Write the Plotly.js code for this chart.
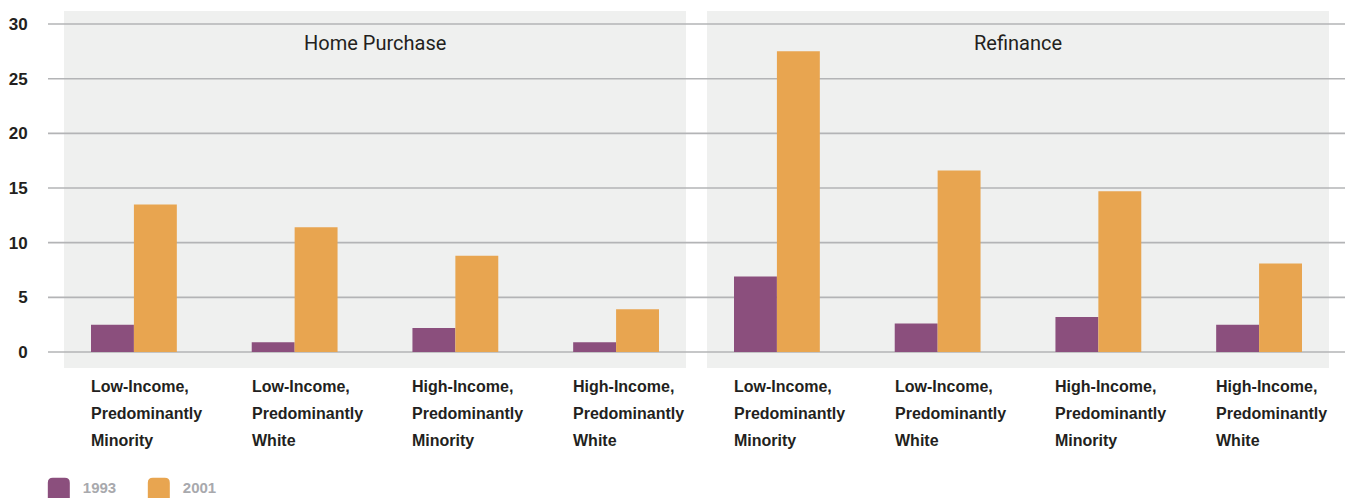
<!DOCTYPE html>
<html>
<head>
<meta charset="utf-8">
<script src="https://cdn.plot.ly/plotly-3.0.1.min.js"></script>
<style>
  html, body { margin: 0; padding: 0; background: #ffffff; }
  #chart { width: 1349px; height: 498px; }
</style>
</head>
<body>
<div id="chart"></div>
<script>
// Neighborhood groups (one category per group, label split into lines)
const categories = [
  "Low-Income, Predominantly Minority",
  "Low-Income, Predominantly White",
  "High-Income, Predominantly Minority",
  "High-Income, Predominantly White"
];
const categoryLines = [
  ["Low-Income,", "Predominantly", "Minority"],
  ["Low-Income,", "Predominantly", "White"],
  ["High-Income,", "Predominantly", "Minority"],
  ["High-Income,", "Predominantly", "White"]
];
const panelTitles = ["Home Purchase", "Refinance"];
const years = ["1993", "2001"];

// Values by panel and year
const purchase1993 = [2.5, 0.9, 2.2, 0.9];
const purchase2001 = [13.5, 11.4, 8.8, 3.9];
const refinance1993 = [6.9, 2.6, 3.2, 2.5];
const refinance2001 = [27.5, 16.6, 14.7, 8.1];

const yTicks = [0, 5, 10, 15, 20, 25, 30];

const PURPLE = "#8b4f7d";
const ORANGE = "#e8a550";
const PANEL_BG = "#eff0ef";
const GRID = "#b3b4b6";
const TEXT = "#231f20";
const SANS = "'Liberation Sans', Arial, sans-serif";

const traces = [
  { x: categories, y: purchase1993, name: years[0], legendgroup: years[0], xaxis: "x", yaxis: "y", marker: { color: PURPLE } },
  { x: categories, y: purchase2001, name: years[1], legendgroup: years[1], xaxis: "x", yaxis: "y", marker: { color: ORANGE } },
  { x: categories, y: refinance1993, name: years[0], legendgroup: years[0], showlegend: false, xaxis: "x2", yaxis: "y", marker: { color: PURPLE } },
  { x: categories, y: refinance2001, name: years[1], legendgroup: years[1], showlegend: false, xaxis: "x2", yaxis: "y", marker: { color: ORANGE } }
].map(t => Object.assign({ type: "bar", hoverinfo: "skip" }, t, { marker: Object.assign({ line: { width: 0 } }, t.marker) }));

// Panel backgrounds, then horizontal grid running across both panels
const shapes = [];
["x", "x2"].forEach(ax => {
  shapes.push({
    type: "rect", layer: "below", xref: ax + " domain", yref: "paper",
    x0: 0, x1: 1, y0: 0, y1: 1, fillcolor: PANEL_BG, line: { width: 0 }
  });
});
yTicks.forEach(v => {
  shapes.push({
    type: "line", layer: "below", xref: "paper", yref: "y",
    x0: 0, x1: 1, y0: v, y1: v, line: { color: GRID, width: 1.6 }
  });
});

// Panel headings and left-aligned multi-line group labels
const annotations = [];
["x", "x2"].forEach((ax, p) => {
  annotations.push({
    text: panelTitles[p], xref: ax + " domain", yref: "paper", x: 0.5, y: 1,
    yanchor: "middle", yshift: -32, showarrow: false,
    font: { family: "Roboto, sans-serif", size: 20, color: TEXT }
  });
  categories.forEach((c, i) => {
    categoryLines[i].forEach((line, k) => {
      annotations.push({
        text: line, xref: ax, yref: "paper", x: c, y: 0,
        xanchor: "left", yanchor: "middle", xshift: -45, yshift: -18 - 27 * k,
        showarrow: false, font: { family: SANS, size: 16, color: TEXT, weight: "bold" }
      });
    });
  });
});

const xCommon = {
  type: "category", range: [-0.435, 3.435], showticklabels: false,
  showgrid: false, zeroline: false, showline: false, ticks: "", fixedrange: true
};

const layout = {
  width: 1349, height: 498,
  margin: { l: 48, r: 4, t: 11, b: 130 },
  paper_bgcolor: "#ffffff", plot_bgcolor: "rgba(0,0,0,0)",
  barmode: "group", bargap: 0.466, bargroupgap: 0,
  xaxis: Object.assign({ domain: [0.01234, 0.4919] }, xCommon),
  xaxis2: Object.assign({ domain: [0.5081, 0.98766] }, xCommon),
  yaxis: {
    range: [-1.463, 31.19], anchor: "free", position: 0,
    tickvals: yTicks, ticktext: yTicks.map(String),
    ticks: "outside", ticklen: 17, tickcolor: "rgba(0,0,0,0)",
    showgrid: false, zeroline: false, showline: false, fixedrange: true,
    tickfont: { family: SANS, size: 17, color: TEXT, weight: "bold" }
  },
  showlegend: true,
  legend: {
    orientation: "h", xref: "paper", yref: "container",
    x: -0.004, xanchor: "left", y: 0.022, yanchor: "middle",
    entrywidth: 55, entrywidthmode: "pixels", traceorder: "normal",
    bgcolor: "rgba(0,0,0,0)",
    font: { family: SANS, size: 15, color: "#a8a9ad", weight: "bold" }
  },
  shapes: shapes,
  annotations: annotations
};

Plotly.newPlot("chart", traces, layout, { staticPlot: true, displayModeBar: false }).then(gd => {
  // Larger swatches with rounded top corners in the legend
  gd.querySelectorAll(".legend .legendpoints path").forEach(p => {
    p.setAttribute("d", "M-15,13V-4Q-15,-9 -10,-9H2Q7,-9 7,-4V13Z");
  });
});
</script>
</body>
</html>
